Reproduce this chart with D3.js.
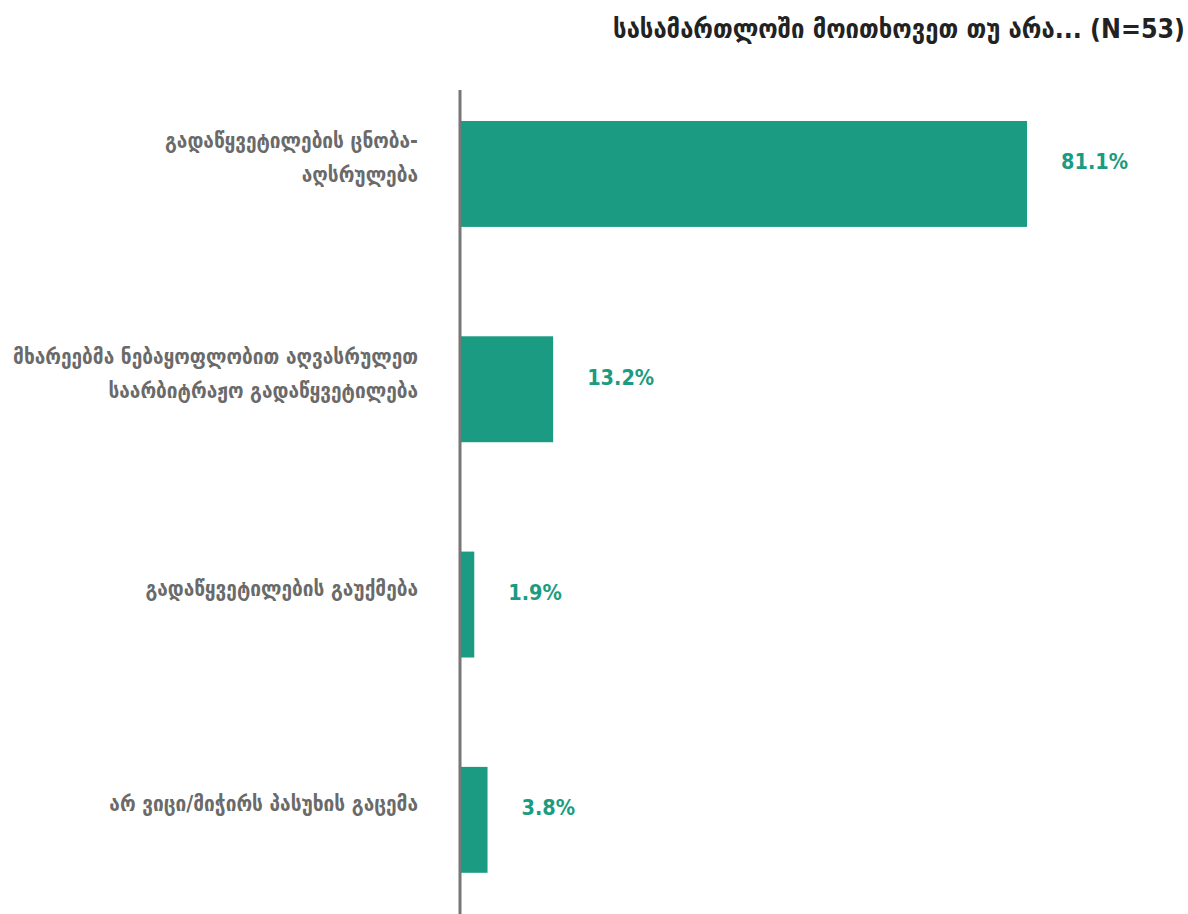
<!DOCTYPE html>
<html>
<head>
<meta charset="utf-8">
<script src="https://cdn.jsdelivr.net/npm/d3@7"></script>
<style>
  html, body { margin: 0; padding: 0; background: #ffffff; }
  svg { display: block; }
  text { font-family: "DejaVu Sans Condensed", "DejaVu Sans", sans-serif; font-weight: bold; }
</style>
</head>
<body>
<svg id="chart" width="1188" height="914"></svg>
<script>
// Answer categories, each split into the lines it is printed on
const categories = [
  ["გადაწყვეტილების ცნობა-", "აღსრულება"],
  ["მხარეებმა ნებაყოფლობით აღვასრულეთ", "საარბიტრაჟო გადაწყვეტილება"],
  ["გადაწყვეტილების გაუქმება"],
  ["არ ვიცი/მიჭირს პასუხის გაცემა"]
];
// Share of respondents (%)
const values = [81.1, 13.2, 1.9, 3.8];
const title = "სასამართლოში მოითხოვეთ თუ არა... (N=53)";

const W = 1188, H = 914;
const barColor = "#1b9b81";
const labelColor = "#6a6a6a";

const svg = d3.select("#chart");

const keys = categories.map((c, i) => i);
const x = d3.scaleLinear().domain([0, 100]).range([461, 1159]);
const y = d3.scaleBand().domain(keys).range([66.3, 927.5]).paddingInner(0.508).paddingOuter(0.254);

// Title
svg.append("text")
  .attr("x", 1185).attr("y", 38)
  .attr("text-anchor", "end")
  .attr("font-size", 26.5)
  .attr("fill", "#222222")
  .text(title);

// Bars
svg.append("g").selectAll("rect")
  .data(values)
  .join("rect")
  .attr("x", x(0))
  .attr("y", (d, i) => y(i))
  .attr("width", d => x(d) - x(0))
  .attr("height", y.bandwidth())
  .attr("fill", barColor);

// Value labels
svg.append("g").selectAll("text")
  .data(values)
  .join("text")
  .attr("x", d => x(d) + 34)
  .attr("y", (d, i) => y(i) + y.bandwidth() / 2 - 12)
  .attr("dy", "0.35em")
  .attr("font-size", 21.5)
  .attr("fill", barColor)
  .attr("font-family", "'DejaVu Sans', sans-serif")
  .text(d => d.toFixed(1) + "%");

// Category labels, right-aligned against the axis
const lineH = 34;
const lab = svg.append("g").selectAll("text")
  .data(categories)
  .join("text")
  .attr("text-anchor", "end")
  .attr("font-size", 21.2)
  .attr("fill", labelColor)
  .attr("transform", (d, i) => {
    const cy = y(i) + y.bandwidth() / 2 - 16 - (d.length - 1) * lineH / 2;
    return `translate(418,${cy})`;
  });
lab.selectAll("tspan")
  .data(d => d)
  .join("tspan")
  .attr("x", 0)
  .attr("y", (d, j) => j * lineH)
  .attr("dy", "0.35em")
  .text(d => d);

// Vertical axis line at zero
svg.append("line")
  .attr("x1", x(0) - 1).attr("x2", x(0) - 1)
  .attr("y1", 90).attr("y2", H)
  .attr("stroke", "#777777")
  .attr("stroke-width", 3);
</script>
</body>
</html>
